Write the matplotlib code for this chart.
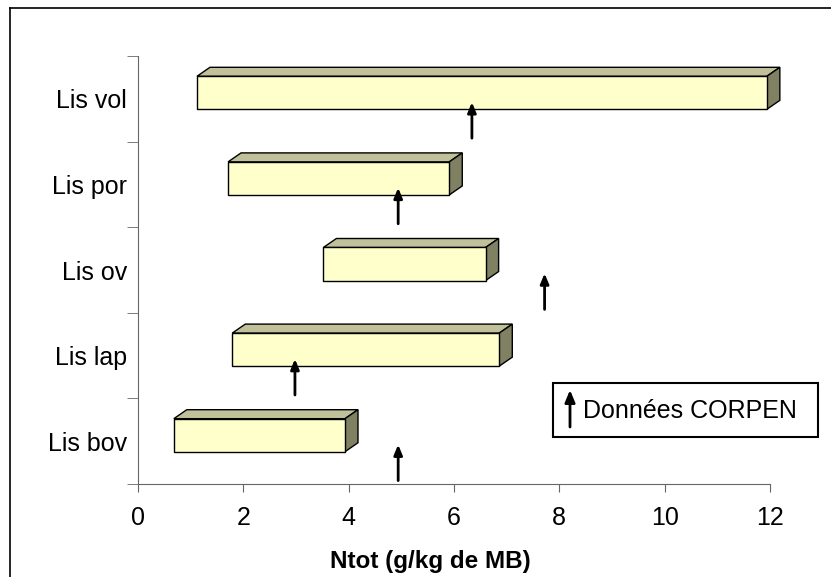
import matplotlib
matplotlib.use("Agg")
import matplotlib.pyplot as plt
from matplotlib.patches import Polygon, FancyArrowPatch
from matplotlib.lines import Line2D

plt.rcParams['font.family'] = ['Liberation Sans', 'DejaVu Sans']

# data (bottom to top)
categories = ["Lis bov", "Lis lap", "Lis ov", "Lis por", "Lis vol"]
ntot_min = [0.68, 1.79, 3.52, 1.71, 1.12]
ntot_max = [3.93, 6.86, 6.60, 5.91, 11.94]
corpen = [4.94, 2.98, 7.72, 4.94, 6.34]

fig = plt.figure(figsize=(8.31, 5.77), dpi=100)
ax = fig.add_axes([138 / 831, 1 - 484 / 577, 632 / 831, 428 / 577])

front = "#FFFFCC"
top_col = "#C0C09A"
side_col = "#808062"

# 3D look: face offset and depth in data units
y_lo, y_hi = -0.123, 0.263
ddx, ddy = 0.247, 0.105

ys = list(range(len(categories)))
widths = [b - a for a, b in zip(ntot_min, ntot_max)]
for y, a, b in zip(ys, ntot_min, ntot_max):
    top = Polygon([(a, y + y_hi), (b, y + y_hi), (b + ddx, y + y_hi + ddy), (a + ddx, y + y_hi + ddy)],
                  closed=True, facecolor=top_col, edgecolor="black", lw=1, zorder=2, clip_on=False)
    side = Polygon([(b, y + y_lo), (b, y + y_hi), (b + ddx, y + y_hi + ddy), (b + ddx, y + y_lo + ddy)],
                   closed=True, facecolor=side_col, edgecolor="black", lw=1, zorder=2, clip_on=False)
    ax.add_patch(top)
    ax.add_patch(side)
bars = ax.barh([y + (y_lo + y_hi) / 2 for y in ys], widths, height=y_hi - y_lo, left=ntot_min,
               color=front, edgecolor="black", linewidth=1, zorder=3)
for b in bars:
    b.set_clip_on(False)

# CORPEN arrows
for y, c in zip(ys, corpen):
    ax.annotate("", xy=(c, y - 0.04), xytext=(c, y - 0.46),
                arrowprops=dict(arrowstyle="-|>,head_length=0.6,head_width=0.25", color="black", lw=2,
                                shrinkA=0, shrinkB=0), zorder=4)

ax.set_xlim(0, 12)
ax.set_ylim(-0.5, 4.5)
ax.set_xticks(range(0, 13, 2))
ax.set_yticks(ys)
ax.set_yticklabels(categories)
ax.set_yticks([y - 0.5 for y in range(len(categories) + 1)], minor=True)
ax.tick_params(axis="y", which="major", length=0, pad=8, labelsize=18)
ax.tick_params(axis="y", which="minor", length=8, color="#666666")
ax.tick_params(axis="x", length=6, color="#666666", pad=10, labelsize=18)
for s in ["top", "right"]:
    ax.spines[s].set_visible(False)
for s in ["left", "bottom"]:
    ax.spines[s].set_color("#666666")
ax.set_xlabel("Ntot (g/kg de MB)", fontsize=17.5, fontweight="bold")
ax.xaxis.set_label_coords(0.462, -0.155)

# legend box
fig.text(583 / 831, 1 - 411 / 577, "Données CORPEN", fontsize=18, va="center", ha="left")
fig.patches.append(plt.Rectangle((553 / 831, 1 - 437 / 577), 265 / 831, 54 / 577,
                                 transform=fig.transFigure, fill=False, edgecolor="black", lw=1.5))
fig.add_artist(FancyArrowPatch((570 / 831, 1 - 427 / 577), (570 / 831, 1 - 390 / 577),
                               transform=fig.transFigure, arrowstyle="-|>,head_length=0.6,head_width=0.25",
                               mutation_scale=12, color="black", lw=2, shrinkA=0, shrinkB=0))

# outer frame
fig.add_artist(Line2D([10 / 831, 10 / 831], [0, 1 - 8 / 577], transform=fig.transFigure, color="black", lw=1.2))
fig.add_artist(Line2D([10 / 831, 1], [1 - 8 / 577, 1 - 8 / 577], transform=fig.transFigure, color="black", lw=1.2))

fig.savefig("out.png", dpi=100)
